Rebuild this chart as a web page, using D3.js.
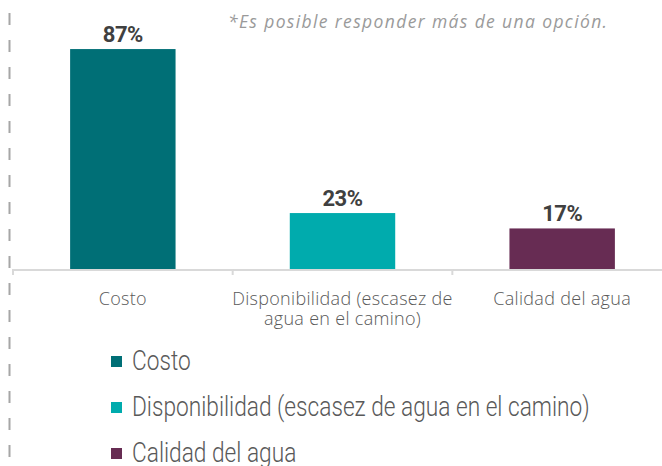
<!DOCTYPE html>
<html>
<head>
<meta charset="utf-8">
<script src="https://cdn.jsdelivr.net/npm/d3@7"></script>
<style>
  body { margin: 0; background: #fff; }
  svg { display: block; }
</style>
</head>
<body>
<svg id="chart-svg" width="662" height="466"></svg>
<script>
const categories = ["Costo", "Disponibilidad (escasez de agua en el camino)", "Calidad del agua"];
const tickLines = [["Costo"], ["Disponibilidad (escasez de", "agua en el camino)"], ["Calidad del agua"]];
const values = [87, 23, 17];
const colors = ["#006f76", "#00abad", "#672c53"];
const note = "*Es posible responder más de una opción.";

const svg = d3.select("#chart-svg");
const width = 662, height = 466;
const baseline = 269;

// dashed border on the left
svg.append("line")
  .attr("x1", 9.5).attr("x2", 9.5)
  .attr("y1", -14).attr("y2", height)
  .attr("stroke", "#a6a6a6")
  .attr("stroke-width", 2)
  .attr("stroke-dasharray", "12,15");

const x = d3.scaleBand()
  .domain(categories)
  .range([13, 672]);

const y = d3.scaleLinear()
  .domain([0, 100])
  .range([272, 15.75]);

const barW = x.bandwidth() * 0.48;

// bars
svg.append("g").selectAll("rect")
  .data(values)
  .join("rect")
  .attr("x", (d, i) => x(categories[i]) + (x.bandwidth() - barW) / 2)
  .attr("y", d => y(d))
  .attr("width", barW)
  .attr("height", d => baseline - y(d))
  .attr("fill", (d, i) => colors[i]);

// value labels
svg.append("g").selectAll("text")
  .data(values)
  .join("text")
  .attr("x", (d, i) => x(categories[i]) + x.bandwidth() / 2)
  .attr("y", d => y(d) - 7)
  .attr("text-anchor", "middle")
  .style("font-family", "Roboto, sans-serif")
  .style("font-weight", "bold")
  .style("font-size", "22px")
  .style("letter-spacing", "-0.5px")
  .style("fill", "#404040")
  .text(d => d + "%");

// axis line + ticks at band edges
const axis = svg.append("g");
axis.append("line")
  .attr("x1", 13).attr("x2", width)
  .attr("y1", baseline + 1).attr("y2", baseline + 1)
  .attr("stroke", "#d9d9d9").attr("stroke-width", 2);
const edges = categories.map(c => x(c)).concat([x.range()[1]]);
axis.selectAll(".tick-edge")
  .data(edges)
  .join("line")
  .attr("class", "tick-edge")
  .attr("x1", d => d).attr("x2", d => d)
  .attr("y1", baseline).attr("y2", baseline + 6)
  .attr("stroke", "#d9d9d9").attr("stroke-width", 2);

// category labels
const lab = axis.selectAll(".cat")
  .data(tickLines)
  .join("text")
  .attr("class", "cat")
  .attr("text-anchor", "middle")
  .style("font-family", "'Open Sans', sans-serif")
  .style("font-weight", 300)
  .style("font-size", "18px")
  .style("letter-spacing", "0.3px")
  .style("fill", "#595959");
lab.each(function(lines, i) {
  const t = d3.select(this);
  lines.forEach((ln, j) => {
    t.append("tspan")
      .attr("x", x(categories[i]) + x.bandwidth() / 2)
      .attr("y", 305 + j * 20)
      .text(ln);
  });
});

// note
svg.append("text")
  .attr("x", 228).attr("y", 28)
  .attr("textLength", 379)
  .attr("lengthAdjust", "spacing")
  .style("font-family", "'Open Sans', sans-serif")
  .style("font-style", "italic")
  .style("font-size", "17.5px")
  .style("fill", "#9a9a9a")
  .text(note);

// legend
const legend = svg.append("g").attr("transform", "translate(111, 0)");
const item = legend.selectAll("g")
  .data(categories)
  .join("g")
  .attr("transform", (d, i) => `translate(0, ${361.5 + i * 46})`);
item.append("rect")
  .attr("x", 0).attr("y", -5.5)
  .attr("width", 11).attr("height", 11)
  .attr("fill", (d, i) => colors[i]);
item.append("text")
  .attr("x", 21).attr("y", 8)
  .style("font-family", "Roboto, sans-serif")
  .style("font-weight", 300)
  .style("font-size", "27px")
  .style("fill", "#595959")
  .text(d => d)
  .each(function() {
    const w = this.getComputedTextLength();
    d3.select(this)
      .attr("textLength", w * 0.84)
      .attr("lengthAdjust", "spacingAndGlyphs");
  });
</script>
</body>
</html>
